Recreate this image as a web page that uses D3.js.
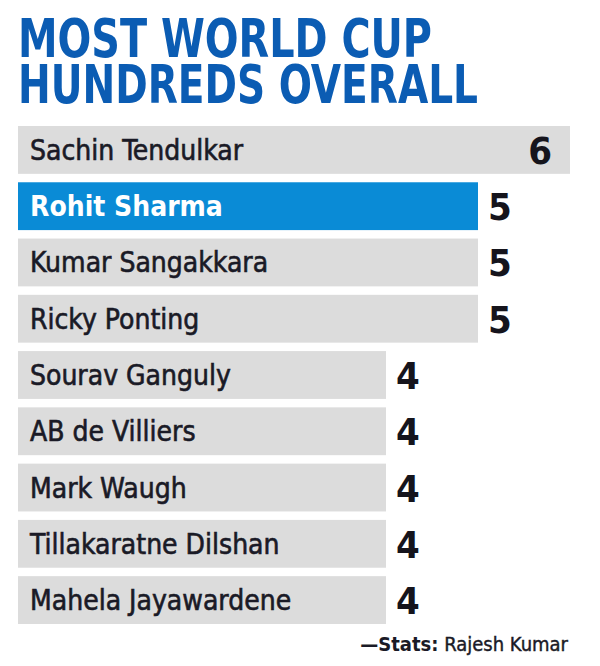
<!DOCTYPE html>
<html><head><meta charset="utf-8">
<script src="https://cdn.jsdelivr.net/npm/d3@7"></script>
<style>body{margin:0;background:#fff}svg{display:block}</style>
</head><body>
<script>
const titleLines = ["MOST WORLD CUP", "HUNDREDS OVERALL"];
const players = ["Sachin Tendulkar","Rohit Sharma","Kumar Sangakkara","Ricky Ponting","Sourav Ganguly","AB de Villiers","Mark Waugh","Tillakaratne Dilshan","Mahela Jayawardene"];
const hundreds = [6,5,5,5,4,4,4,4,4];
const highlight = ["Rohit Sharma"];
const credit = ["—Stats:", " Rajesh Kumar"];

const W = 600, H = 666;
const svg = d3.select("body").append("svg").attr("width", W).attr("height", H);
svg.append("rect").attr("width", W).attr("height", H).attr("fill", "#fff");

const titleFont = "'Liberation Sans Narrow','DejaVu Sans Condensed',sans-serif";
const title = svg.append("text")
  .attr("font-family", titleFont)
  .attr("font-weight", "bold")
  .attr("font-size", 53)
  .attr("fill", "#0b5cb3");
title.selectAll("tspan").data(titleLines).join("tspan")
  .attr("x", 18)
  .attr("y", (d, i) => 57 + i * 46)
  .attr("textLength", (d, i) => i === 0 ? 414 : 460)
  .attr("lengthAdjust", "spacingAndGlyphs")
  .text(d => d);

const data = players.map((p, i) => ({name: p, value: hundreds[i]}));
const x = d3.scaleLinear().domain([0, 6]).range([18, 570]);
const y = d3.scaleBand().domain(players).range([126, 624]).paddingInner(0.15).paddingOuter(0);
const maxV = d3.max(hundreds);

const rows = svg.append("g").selectAll("g").data(data).join("g")
  .attr("transform", d => `translate(0,${y(d.name)})`);

rows.append("rect")
  .attr("x", x(0))
  .attr("width", d => x(d.value) - x(0))
  .attr("height", y.bandwidth())
  .attr("fill", d => highlight.includes(d.name) ? "#0a8bd6" : "#dcdcdc");

rows.append("text")
  .attr("x", 30)
  .attr("y", y.bandwidth() / 2 + 10)
  .attr("font-family", "'DejaVu Sans Condensed','DejaVu Sans',sans-serif")
  .attr("font-size", 28)
  .attr("font-weight", d => highlight.includes(d.name) ? "bold" : "normal")
  .attr("fill", d => highlight.includes(d.name) ? "#fff" : "#1a1a26")
  .attr("stroke", d => highlight.includes(d.name) ? "none" : "#1a1a26")
  .attr("stroke-width", 0.6)
  .text(d => d.name);

rows.append("text")
  .attr("x", d => d.value === maxV ? x(d.value) - 18 : x(d.value) + 10)
  .attr("text-anchor", d => d.value === maxV ? "end" : "start")
  .attr("y", y.bandwidth() / 2 + 14)
  .attr("font-family", titleFont)
  .attr("font-weight", "bold")
  .attr("font-size", 38)
  .attr("fill", "#15141c")
  .text(d => d.value);

const c = svg.append("text")
  .attr("x", 568).attr("y", 651)
  .attr("text-anchor", "end")
  .attr("font-family", "'DejaVu Sans Condensed','DejaVu Sans',sans-serif")
  .attr("font-size", 20)
  .attr("fill", "#1a1a26");
c.append("tspan").attr("font-weight", "bold").text(credit[0]);
c.append("tspan").attr("stroke", "#1a1a26").attr("stroke-width", 0.4).text(credit[1]);
</script>
</body></html>
